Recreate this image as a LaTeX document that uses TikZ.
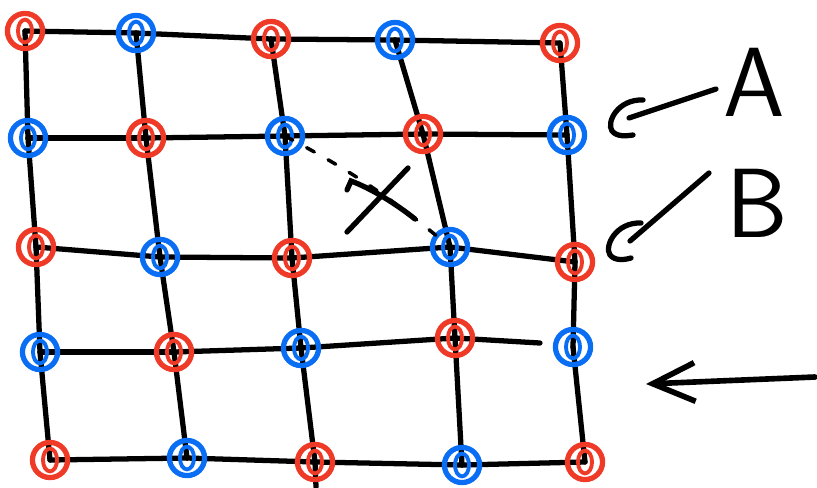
\documentclass[tikz,border=0pt]{standalone}
\usetikzlibrary{arrows.meta,backgrounds}

\definecolor{dotred}{HTML}{EE3A26}
\definecolor{dotblue}{HTML}{0A6EF5}

\tikzset{
  edge/.style={line width=3pt,line cap=round},
  dashlink/.style={line width=2pt,line cap=round,dash pattern=on 5pt off 9pt},
  rdot/.style={circle,draw=dotred,line width=3pt,minimum size=20pt,inner sep=0pt,
    path picture={\draw[dotred,line width=2.2pt] (path picture bounding box.center) ellipse (4pt and 6.5pt);}},
  bdot/.style={circle,draw=dotblue,line width=3pt,minimum size=20pt,inner sep=0pt,
    path picture={\draw[dotblue,line width=2.2pt] (path picture bounding box.center) ellipse (4pt and 6.5pt);}},
  letter/.style={font=\fontsize{56}{56}\selectfont\sffamily}
}

\begin{document}
\begin{tikzpicture}[x=0.02cm,y=-0.02cm]
            \useasboundingbox (0,0) rectangle (817,487);

            % lattice sites
            \node[rdot] (v00) at (25,31) {};  \node[bdot] (v01) at (136,33) {};
            \node[rdot] (v02) at (271,39) {}; \node[bdot] (v03) at (395,40) {};
            \node[rdot] (v04) at (560,43) {};
            \node[bdot] (v10) at (28,138) {};  \node[rdot] (v11) at (146,138) {};
            \node[bdot] (v12) at (285,136) {}; \node[rdot] (v13) at (423,134) {};
            \node[bdot] (v14) at (567,135) {};
            \node[rdot] (v20) at (36,247) {};  \node[bdot] (v21) at (160,257) {};
            \node[rdot] (v22) at (292,258) {}; \node[bdot] (v23) at (450,247) {};
            \node[rdot] (v24) at (575,262) {};
            \node[bdot] (v30) at (40,352) {};  \node[rdot] (v31) at (174,352) {};
            \node[bdot] (v32) at (301,348) {}; \node[rdot] (v33) at (455,338) {};
            \node[bdot] (v34) at (573,347) {};
            \node[rdot] (v40) at (50,460) {};  \node[bdot] (v41) at (187,458) {};
            \node[rdot] (v42) at (315,462) {}; \node[bdot] (v43) at (462,465) {};
            \node[rdot] (v44) at (585,462) {};

            \coordinate (stub) at (540,343);
            \coordinate (down) at (316,487);

            % bonds
            \begin{scope}[on background layer]
            \foreach \r in {0,1,2,4} {
              \foreach \c/\d in {0/1,1/2,2/3,3/4}
                \draw[edge] (v\r\c.center) -- (v\r\d.center);
            }
            \foreach \c/\d in {0/1,1/2,2/3}
              \draw[edge] (v3\c.center) -- (v3\d.center);
            \draw[edge] (v33.center) -- (stub);
            \foreach \c in {0,...,4} {
              \foreach \r/\s in {0/1,1/2,2/3,3/4}
                \draw[edge] (v\r\c.center) -- (v\s\c.center);
            }
            \draw[edge] (v42.center) -- (down);
            \end{scope}

            % crossed out hop
            \draw[dashlink] (v12.center) to[bend left=6] (v23.center);
            \coordinate (x1) at (347,232);
            \coordinate (x2) at (408,168);
            \coordinate (x3) at (347,190);
            \coordinate (x4) at (415,219);
            \draw[edge] (x1) -- (x2);
            \draw[edge] (x3) -- (351,181) .. controls (370,188) and (395,203) .. (x4);

            % legend
            \coordinate (hA) at (629,118);
            \coordinate (hAend) at (716,89);
            \coordinate (hB) at (630,241);
            \coordinate (hBend) at (709,173);
            \draw[edge] (643,100) .. controls (618,99) and (606,122) .. (612,131)
              .. controls (617,137) and (626,136) .. (633,135);
            \draw[edge] (hA) -- (hAend);
            \draw[edge] (641,223) .. controls (616,222) and (604,246) .. (610,255)
              .. controls (615,261) and (624,260) .. (631,258);
            \draw[edge] (hB) -- (hBend);
            \node[letter] (labA) at (754,82) {A};
            \node[letter] (labB) at (757,203) {B};

            % direction
            \coordinate (arrS) at (815,377);
            \coordinate (arrE) at (646,384);
            \draw[edge,line width=3.2pt,-{Straight Barb[length=24pt,width=22pt]}] (arrS) -- (arrE);
        \end{tikzpicture}
\end{document}
